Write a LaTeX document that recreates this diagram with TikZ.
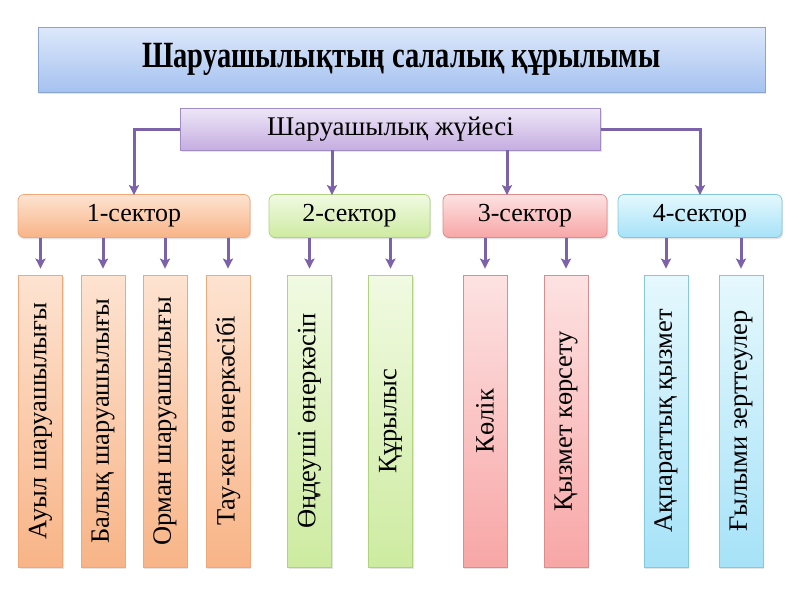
\documentclass[tikz,border=0pt]{standalone}
\usepackage{fontspec}
\setmainfont{Liberation Serif}
\usetikzlibrary{arrows.meta,shadows}
\begin{document}
\begin{tikzpicture}[x=1pt,y=-1pt,
  box/.style={draw, line width=0.8pt, inner sep=0pt, drop shadow={shadow xshift=1.2pt,shadow yshift=-1.8pt,opacity=0.2}},
  titlebox/.style={box, draw=titleborder, top color=titletop, bottom color=titlebot, minimum width=727pt, minimum height=65pt,
    font=\fontsize{37}{40}\selectfont\bfseries},
  sysbox/.style={box, draw=sysborder, top color=systop, bottom color=sysbot, minimum width=420pt, minimum height=42pt,
    font=\fontsize{27}{30}\selectfont},
  secbox/.style={box, rounded corners=6pt, minimum height=43pt, font=\fontsize{26}{30}\selectfont},
  itembox/.style={box, minimum width=292pt, minimum height=44pt, rotate=90, font=\fontsize{26.5}{30}\selectfont},
  orangec/.style={draw=orborder, top color=ortop, bottom color=orbot},
  greenc/.style={draw=grborder, top color=grtop, bottom color=grbot},
  redc/.style={draw=rdborder, top color=rdtop, bottom color=rdbot},
  bluec/.style={draw=blborder, top color=bltop, bottom color=blbot},
  conn/.style={draw=linecol, line width=3pt, -{Stealth[length=10pt,width=10pt,inset=2pt]}},
]
\definecolor{titleborder}{HTML}{8AA4D0}
\definecolor{titletop}{HTML}{DDE8FB}
\definecolor{titlebot}{HTML}{A5C2F0}
\definecolor{sysborder}{HTML}{A08CC4}
\definecolor{systop}{HTML}{EEE7F7}
\definecolor{sysbot}{HTML}{C5ADE1}
\definecolor{linecol}{HTML}{7C62A8}
\definecolor{orborder}{HTML}{F0A878}
\definecolor{ortop}{HTML}{FDE3D1}
\definecolor{orbot}{HTML}{F8B487}
\definecolor{grborder}{HTML}{AED47E}
\definecolor{grtop}{HTML}{F1FAE2}
\definecolor{grbot}{HTML}{CDEBA0}
\definecolor{rdborder}{HTML}{DB8C8C}
\definecolor{rdtop}{HTML}{FDE2E2}
\definecolor{rdbot}{HTML}{F8A6A6}
\definecolor{blborder}{HTML}{84C8E0}
\definecolor{bltop}{HTML}{E5F8FD}
\definecolor{blbot}{HTML}{A6E2F8}

\useasboundingbox[fill=white] (0,0) rectangle (800,600);

\node[titlebox] (title) at (401.5,59.5) {\scalebox{0.77}[1]{Шаруашылықтың салалық құрылымы}};
\node[sysbox] (sys) at (390.5,129) {Шаруашылық жүйесі};

\node[secbox, orangec, minimum width=232pt] (s1) at (134,216) {1-сектор};
\node[secbox, greenc, minimum width=161pt] (s2) at (349.5,216) {2-сектор};
\node[secbox, redc, minimum width=164pt] (s3) at (525,216) {3-сектор};
\node[secbox, bluec, minimum width=164pt] (s4) at (700,216) {4-сектор};

\node[itembox, orangec] (i1) at (40.5,421) {Ауыл шаруашылығы};
\node[itembox, orangec] (i2) at (103,421) {Балық шаруашылығы};
\node[itembox, orangec] (i3) at (165,421) {Орман шаруашылығы};
\node[itembox, orangec] (i4) at (228,421) {Тау-кен өнеркәсібі};
\node[itembox, greenc] (i5) at (309.5,421) {Өңдеуші өнеркәсіп};
\node[itembox, greenc] (i6) at (390.5,421) {Құрылыс};
\node[itembox, redc] (i7) at (485,421) {Көлік};
\node[itembox, redc] (i8) at (566,421) {Қызмет көрсету};
\node[itembox, bluec] (i9) at (666,421) {Ақпараттық қызмет};
\node[itembox, bluec] (i10) at (741,421) {Ғылыми зерттеулер};

\coordinate (c2) at (332,0);
\coordinate (c3) at (507,0);

\draw[conn] (sys.west) -| ([yshift=-1pt]s1.north);
\draw[conn] (sys.east) -| ([yshift=-1pt]s4.north);
\draw[conn] (sys.south -| c2) -- ([yshift=-1pt]s2.north -| c2);
\draw[conn] (sys.south -| c3) -- ([yshift=-1pt]s3.north -| c3);

\foreach \s/\i in {s1/i1,s1/i2,s1/i3,s1/i4,s2/i5,s2/i6,s3/i7,s3/i8,s4/i9,s4/i10}
  \draw[conn, shorten >=6pt] (\s.south -| \i.east) -- (\i.east);
\end{tikzpicture}
\end{document}
